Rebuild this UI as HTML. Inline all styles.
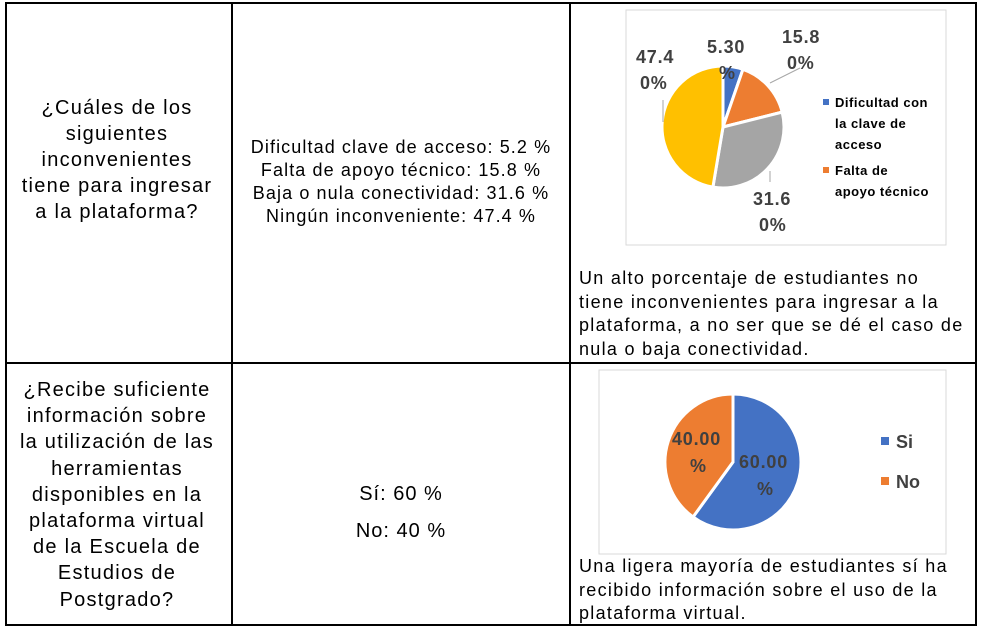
<!DOCTYPE html>
<html><head><meta charset="utf-8"><style>
body{margin:0;width:982px;height:635px;background:#fff;position:relative;font-family:"Liberation Sans",Arial,sans-serif;overflow:hidden}
.ab{position:absolute}
.t{color:#000;text-align:center;white-space:nowrap}
</style></head><body>
<div class="ab" style="left:5px;top:2px;width:972px;height:624px;border:2px solid #000;box-sizing:border-box"></div>
<div class="ab" style="left:231px;top:2px;width:2px;height:624px;background:#000"></div>
<div class="ab" style="left:569px;top:2px;width:2px;height:624px;background:#000"></div>
<div class="ab" style="left:5px;top:362px;width:972px;height:2px;background:#000"></div>

<div class="ab t" style="left:8px;top:95px;width:218px;font-size:20px;line-height:26px;letter-spacing:1.25px">¿Cuáles de los<br>siguientes<br>inconvenientes<br>tiene para ingresar<br>a la plataforma?</div>
<div class="ab t" style="left:233px;top:136px;width:336px;font-size:18px;line-height:23px;letter-spacing:1.1px">Dificultad clave de acceso: 5.2 %<br>Falta de apoyo técnico: 15.8 %<br>Baja o nula conectividad: 31.6 %<br>Ningún inconveniente: 47.4 %</div>
<div class="ab t" style="left:8px;top:377px;width:218px;font-size:20px;line-height:26.2px;letter-spacing:1.25px">¿Recibe suficiente<br>información sobre<br>la utilización de las<br>herramientas<br>disponibles en la<br>plataforma virtual<br>de la Escuela de<br>Estudios de<br>Postgrado?</div>
<div class="ab t" style="left:233px;top:476px;width:336px;font-size:20px;line-height:37px;letter-spacing:1px">Sí: 60 %<br>No: 40 %</div>
<div class="ab" style="left:579px;top:267px;width:395px;font-size:18px;line-height:23.5px;white-space:nowrap;letter-spacing:1.3px">Un alto porcentaje de estudiantes no<br>tiene inconvenientes para ingresar a la<br>plataforma, a no ser que se dé el caso de<br>nula o baja conectividad.</div>
<div class="ab" style="left:579px;top:555px;width:395px;font-size:18px;line-height:23.5px;white-space:nowrap;letter-spacing:1.3px">Una ligera mayoría de estudiantes sí ha<br>recibido información sobre el uso de la<br>plataforma virtual.</div>

<svg class="ab" style="left:0;top:0" width="982" height="635">
<rect x="626" y="10" width="320" height="235" fill="#fff" stroke="#d9d9d9"/>
<rect x="599" y="370" width="347" height="184" fill="#fff" stroke="#d9d9d9"/>
<g id="pie1"></g><g id="pie2"></g>
<g font-family="Liberation Sans,Arial,sans-serif" font-weight="bold" fill="#404040" font-size="18" letter-spacing="0.8">
<text x="636" y="63">47.4</text><text x="640" y="89">0%</text>
<text x="707" y="53">5.30</text><text x="719" y="79">%</text>
<text x="782" y="43">15.8</text><text x="787" y="69">0%</text>
<text x="753" y="205">31.6</text><text x="759" y="231">0%</text>
<text x="672" y="445">40.00</text><text x="690" y="472">%</text>
<text x="739" y="468">60.00</text><text x="757" y="495">%</text>
</g>
<g stroke="#a6a6a6" fill="none"><line x1="663" y1="100" x2="663" y2="122"/><line x1="770" y1="83" x2="800" y2="68"/><line x1="770" y1="171" x2="770" y2="182"/></g>
<g font-family="Liberation Sans,Arial,sans-serif" font-weight="bold" fill="#000" font-size="13" letter-spacing="0.5">
<rect x="823" y="99" width="6" height="6" fill="#4472c4"/>
<text x="835" y="107">Dificultad con</text><text x="835" y="128">la clave de</text><text x="835" y="149">acceso</text>
<rect x="823" y="167" width="6" height="6" fill="#ed7d31"/>
<text x="835" y="175">Falta de</text><text x="835" y="196">apoyo técnico</text>
</g>
<g font-family="Liberation Sans,Arial,sans-serif" font-weight="bold" fill="#404040" font-size="18">
<rect x="881" y="437" width="8" height="8" fill="#4472c4"/><text x="896" y="448">Si</text>
<rect x="881" y="477" width="8" height="8" fill="#ed7d31"/><text x="896" y="488">No</text>
</g>
</svg>
<script>
const cats1=["Dificultad con la clave de acceso","Falta de apoyo técnico","Baja o nula conectividad","Ningún inconveniente"];
const vals1=[5.3,15.8,31.6,47.4];
const cols1=["#4472c4","#ed7d31","#a5a5a5","#ffc000"];
const cats2=["Si","No"];
const vals2=[60,40];
const cols2=["#4472c4","#ed7d31"];
function pie(gid,vals,cols,cx,cy,r,names){
  const g=document.getElementById(gid);const tot=vals.reduce((a,b)=>a+b,0);let a0=0;
  vals.forEach((v,i)=>{const a1=a0+v/tot*2*Math.PI;
    const p=(a)=>[cx+r*Math.sin(a),cy-r*Math.cos(a)];const [x0,y0]=p(a0),[x1,y1]=p(a1);
    const el=document.createElementNS("http://www.w3.org/2000/svg","path");
    el.setAttribute("d",`M${cx},${cy}L${x0},${y0}A${r},${r} 0 ${a1-a0>Math.PI?1:0} 1 ${x1},${y1}Z`);
    el.setAttribute("fill",cols[i]);el.setAttribute("stroke","#fff");el.setAttribute("stroke-width","3");
    
    
    g.appendChild(el);a0=a1;});
}
pie("pie1",vals1,cols1,723,127,61,cats1);
pie("pie2",vals2,cols2,733,462,68,cats2);
</script>
</body></html>
